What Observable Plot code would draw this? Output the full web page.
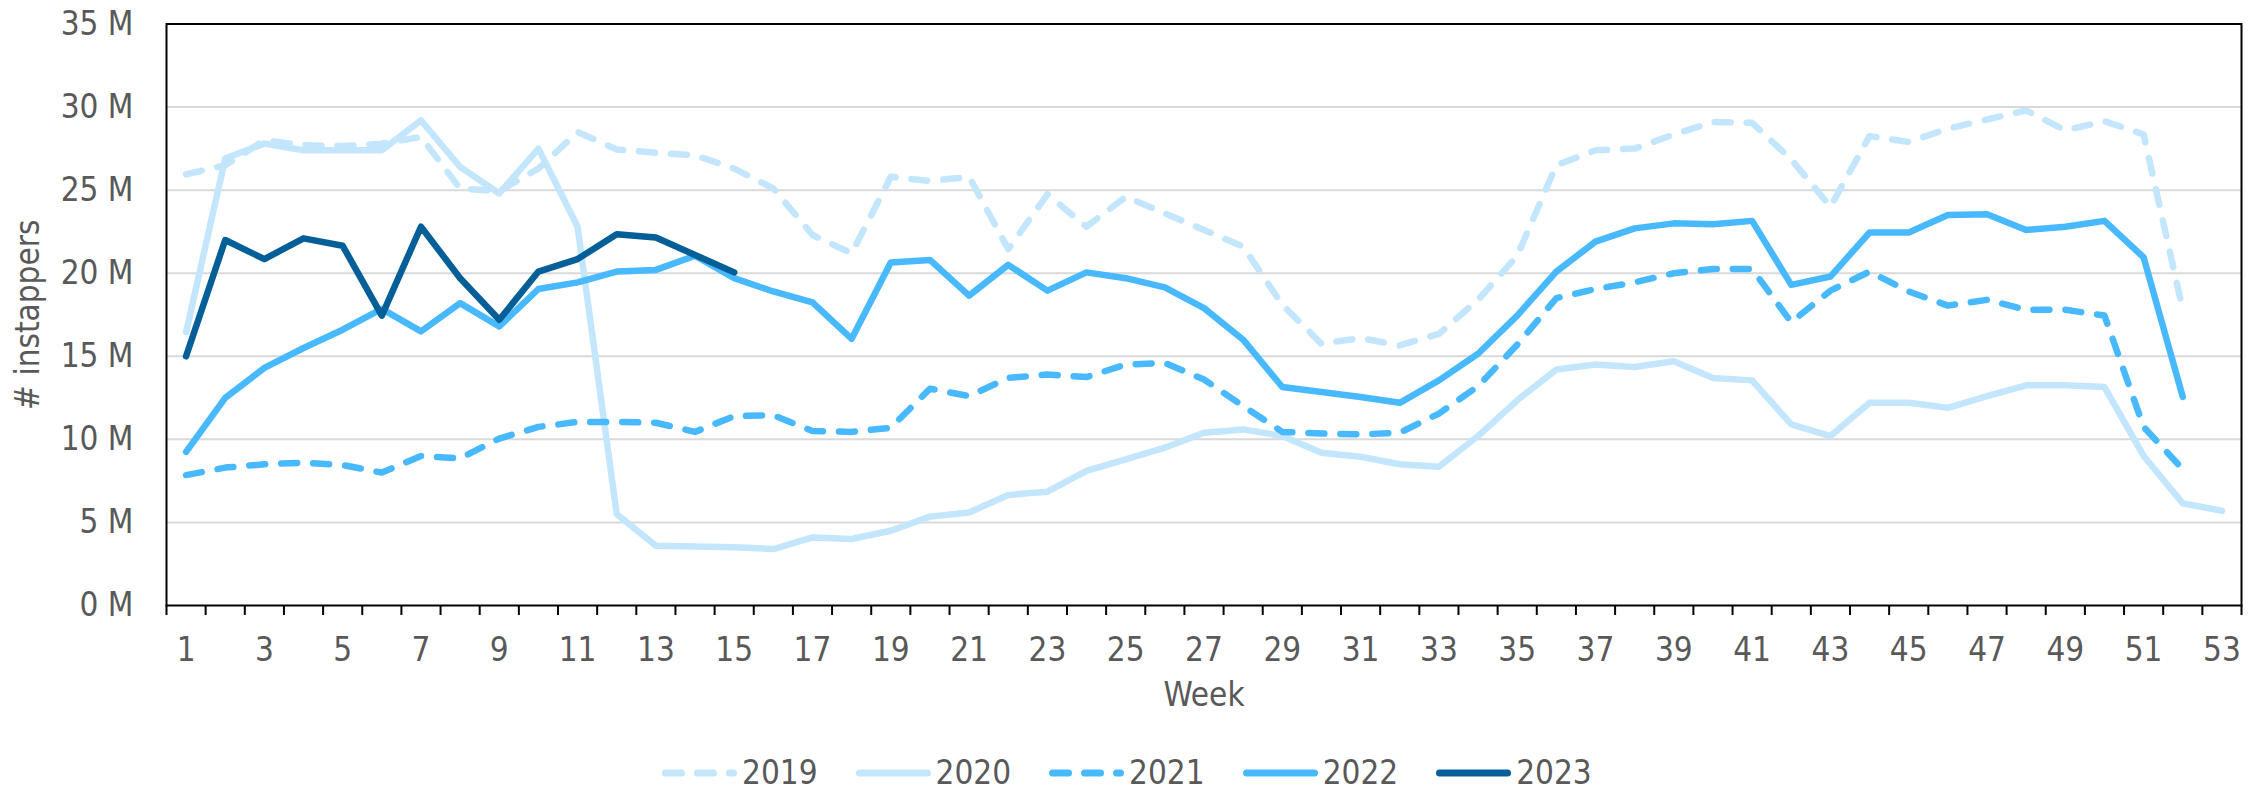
<!DOCTYPE html>
<html><head><meta charset="utf-8">
<script src="https://cdn.jsdelivr.net/npm/d3@7"></script>
<script src="https://cdn.jsdelivr.net/npm/@observablehq/plot@0.6"></script>
<style>
body{margin:0;background:#fff;font-family:"DejaVu Sans Condensed","DejaVu Sans",sans-serif;font-stretch:condensed;color:#595959}
#legend{display:flex;align-items:center;margin-left:662px;margin-top:21.7px;height:32px;font-size:33px;line-height:32px}
.item{display:flex;align-items:center;margin-right:38px}
.item svg{margin-right:5px;display:block}
</style></head><body>
<div id="chart"></div><div id="legend"></div>
<script>
// ---- data ----
const weeks = d3.range(1, 54);
const years = ["2019", "2020", "2021", "2022", "2023"];
const yTicks = [0, 5, 10, 15, 20, 25, 30, 35];
const v2019 = [25.95, 26.5, 28.0, 27.7, 27.65, 27.8, 28.2, 25.1, 24.95, 26.3, 28.5, 27.45, 27.25, 27.1, 26.3, 25.1, 22.3, 21.2, 25.8, 25.55, 25.8, 21.45, 24.75, 22.8, 24.6, 23.6, 22.6, 21.6, 18.1, 15.75, 16.1, 15.65, 16.35, 18.4, 21.05, 26.5, 27.4, 27.5, 28.35, 29.1, 29.05, 26.85, 24.0, 28.25, 27.9, 28.7, 29.25, 29.8, 28.6, 29.15, 28.35, 17.8];
const v2020 = [16.45, 26.9, 27.8, 27.4, 27.4, 27.4, 29.2, 26.4, 24.8, 27.5, 22.8, 5.5, 3.6, 3.55, 3.5, 3.4, 4.1, 4.0, 4.5, 5.35, 5.6, 6.65, 6.85, 8.1, 8.8, 9.5, 10.4, 10.6, 10.2, 9.2, 8.95, 8.5, 8.35, 10.2, 12.35, 14.2, 14.5, 14.35, 14.7, 13.7, 13.55, 10.9, 10.2, 12.2, 12.2, 11.9, 12.6, 13.25, 13.25, 13.15, 9.0, 6.15, 5.7];
const v2021 = [7.85, 8.3, 8.5, 8.6, 8.45, 8.0, 9.0, 8.85, 10.05, 10.75, 11.05, 11.05, 11.0, 10.45, 11.4, 11.45, 10.5, 10.45, 10.7, 13.05, 12.6, 13.7, 13.9, 13.75, 14.5, 14.6, 13.6, 12.0, 10.45, 10.35, 10.3, 10.4, 11.55, 13.2, 15.7, 18.5, 19.05, 19.45, 20.0, 20.25, 20.25, 17.05, 18.95, 20.1, 18.9, 18.05, 18.4, 17.8, 17.8, 17.45, 10.75, 8.2];
const v2022 = [9.25, 12.5, 14.3, 15.5, 16.6, 17.85, 16.5, 18.2, 16.8, 19.05, 19.45, 20.1, 20.2, 21.05, 19.7, 18.9, 18.25, 16.05, 20.65, 20.8, 18.65, 20.5, 18.95, 20.05, 19.7, 19.15, 17.9, 16.0, 13.15, 12.85, 12.55, 12.2, 13.55, 15.15, 17.45, 20.1, 21.9, 22.7, 23.0, 22.95, 23.15, 19.3, 19.8, 22.45, 22.45, 23.5, 23.55, 22.6, 22.8, 23.15, 20.95, 12.55];
const v2023 = [15.0, 22.0, 20.85, 22.1, 21.65, 17.45, 22.8, 19.7, 17.2, 20.1, 20.85, 22.35, 22.15, 21.1, 20.05];
const seriesValues = [v2019, v2020, v2021, v2022, v2023];

// ---- styles ----
const styles = {
  "2019": {color: "#c3e6fd", dash: "16,16"},
  "2020": {color: "#c3e6fd", dash: null},
  "2021": {color: "#48b9ff", dash: "16,16"},
  "2022": {color: "#48b9ff", dash: null},
  "2023": {color: "#045e98", dash: null}
};

const rows = years.map((y, k) => seriesValues[k].map((v, i) => ({year: y, week: weeks[i], value: v})));
const boundaries = weeks.map(w => w - 0.5).concat([weeks[weeks.length - 1] + 0.5]);

const plot = Plot.plot({
  width: 2267, height: 735,
  marginTop: 23.5, marginRight: 26, marginBottom: 130, marginLeft: 166,
  style: {fontFamily: "'DejaVu Sans Condensed','DejaVu Sans',sans-serif", fontStretch: "condensed", fontSize: "33px", color: "#595959", background: "#fff"},
  x: {domain: [boundaries[0], boundaries[boundaries.length - 1]]},
  y: {domain: [yTicks[0], yTicks[yTicks.length - 1]]},
  marks: [
    Plot.ruleY(yTicks.slice(1, -1), {stroke: "#d9d9d9", strokeWidth: 2}),
    ...years.map((y, k) => Plot.line(rows[k], {
      x: "week", y: "value", stroke: styles[y].color, strokeWidth: 6.5,
      strokeDasharray: styles[y].dash, strokeLinecap: "round", strokeLinejoin: "round"
    })),
    Plot.frame({stroke: "black", strokeWidth: 2}),
    Plot.axisY({ticks: yTicks, tickSize: 0, tickPadding: 33, tickFormat: d => `${d} M`, label: null}),
    Plot.axisX({ticks: weeks.filter(w => w % 2 === 1), tickSize: 0, tickPadding: 32, label: null}),
    Plot.axisX({ticks: boundaries, tickSize: 10, tickFormat: () => "", stroke: "black", strokeWidth: 2, strokeOpacity: 1, label: null}),
    Plot.text(["# instappers"], {text: d => d, frameAnchor: "left", rotate: -90, dx: -138, lineAnchor: "middle", textAnchor: "middle"}),
    Plot.text(["Week"], {text: d => d, frameAnchor: "bottom", dy: 90, lineAnchor: "middle", textAnchor: "middle"})
  ]
});
document.getElementById("chart").appendChild(plot);

// ---- legend ----
const legend = document.getElementById("legend");
years.forEach(y => {
  const it = document.createElement("div");
  it.className = "item";
  const dash = styles[y].dash ? `stroke-dasharray="${styles[y].dash}"` : "";
  it.innerHTML = `<svg width="75" height="14"><line x1="3.5" x2="71.5" y1="7" y2="7" stroke="${styles[y].color}" stroke-width="7" stroke-linecap="round" ${dash}/></svg><span>${y}</span>`;
  legend.appendChild(it);
});
</script>
</body></html>
